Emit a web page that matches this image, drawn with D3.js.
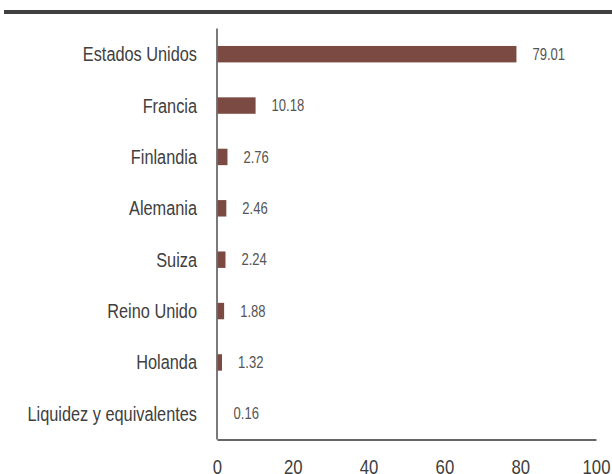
<!DOCTYPE html>
<html>
<head>
<meta charset="utf-8">
<script src="https://cdn.jsdelivr.net/npm/d3@7"></script>
<style>
  html, body { margin: 0; padding: 0; background: #fff; }
  svg { display: block; }
  text { font-family: "Liberation Sans", Arial, sans-serif; }
</style>
</head>
<body>
<script>
const width = 612;
const height = 474;

// Data
const countries = ["Estados Unidos", "Francia", "Finlandia", "Alemania", "Suiza",
  "Reino Unido", "Holanda", "Liquidez y equivalentes"];
const weights = [79.01, 10.18, 2.76, 2.46, 2.24, 1.88, 1.32, 0.16];
const xTicks = [0, 20, 40, 60, 80, 100];

const data = countries.map((c, i) => ({ name: c, value: weights[i] }));

// the original font is a condensed one; squeeze Liberation Sans to match
const squeeze = 0.815;
function condense(sel) {
  sel.each(function() {
    const w = this.getComputedTextLength();
    d3.select(this)
      .attr("textLength", w * squeeze)
      .attr("lengthAdjust", "spacingAndGlyphs");
  });
}

const svg = d3.select("body")
  .append("svg")
  .attr("width", width)
  .attr("height", height)
  .attr("viewBox", [0, 0, width, height]);

// dark rule on top
svg.append("rect")
  .attr("x", 4)
  .attr("y", 10)
  .attr("width", width - 4)
  .attr("height", 4)
  .attr("fill", "#404040");

const x = d3.scaleLinear()
  .domain([0, 100])
  .range([217, 596]);

const y = d3.scaleBand()
  .domain(countries)
  .range([28.5, 439.5])
  .paddingInner(0.68)
  .paddingOuter(0.34);

// bars
svg.selectAll(".bar")
  .data(data)
  .enter()
  .append("rect")
  .attr("class", "bar")
  .attr("x", x(0) + 0.7)
  .attr("y", d => y(d.name))
  .attr("width", d => Math.max(0, x(d.value) - x(0) - 0.7))
  .attr("height", y.bandwidth())
  .attr("fill", "#7b4a42");

// value labels
svg.selectAll(".val")
  .data(data)
  .enter()
  .append("text")
  .attr("class", "val")
  .attr("x", d => x(d.value) + 16)
  .attr("y", d => y(d.name) + y.bandwidth() / 2)
  .attr("dy", "0.35em")
  .attr("font-size", 16)
  .attr("fill", "#555")
  .text(d => d.value.toFixed(2))
  .call(condense);

// category labels
svg.selectAll(".cat")
  .data(data)
  .enter()
  .append("text")
  .attr("class", "cat")
  .attr("x", 197)
  .attr("y", d => y(d.name) + y.bandwidth() / 2)
  .attr("dy", "0.35em")
  .attr("text-anchor", "end")
  .attr("font-size", 20)
  .attr("fill", "#404040")
  .text(d => d.name)
  .call(condense);

// axis lines
svg.append("line")
  .attr("x1", x(0)).attr("x2", x(0))
  .attr("y1", 28.5).attr("y2", 439.5)
  .attr("stroke", "#333")
  .attr("stroke-width", 1.3);

const xAxis = svg.append("g")
  .attr("transform", "translate(0,439.5)")
  .call(d3.axisBottom(x).tickValues(xTicks).tickSize(0).tickPadding(0));

xAxis.select(".domain")
  .attr("stroke", "#333")
  .attr("stroke-width", 1.3);

xAxis.selectAll("text")
  .attr("y", 34)
  .attr("dy", 0)
  .attr("font-size", 20.5)
  .attr("fill", "#404040")
  .style("font-family", "'Liberation Sans', Arial, sans-serif")
  .call(condense);
</script>
</body>
</html>
